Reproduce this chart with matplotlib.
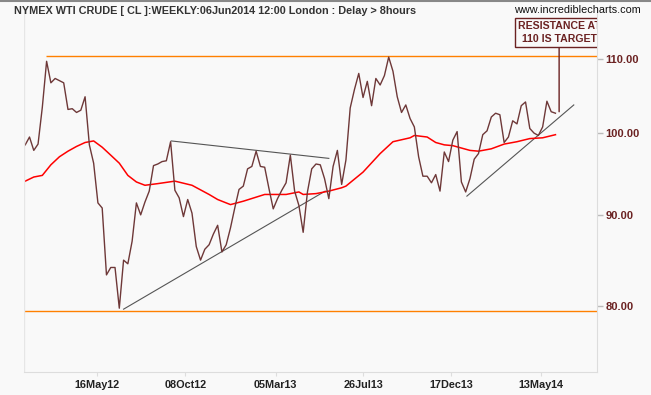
"""NYMEX WTI crude weekly chart with trendlines and 110 resistance note"""
import matplotlib
matplotlib.use('Agg')
import matplotlib.pyplot as plt
from matplotlib.ticker import FixedLocator, NullLocator, NullFormatter
import pandas as pd

# weekly closes from 20 Jan 2012 to 06 Jun 2014
close = [98.5, 99.5, 97.8, 98.6, 103.4, 109.7, 106.7, 107.3, 107.0, 106.7,
         103.1, 103.2, 102.7, 103.0, 104.8, 98.5, 96.2, 91.4, 90.8, 83.3,
         84.1, 84.1, 79.8, 84.9, 84.5, 87.0, 91.4, 90.0, 91.5, 92.8,
         95.9, 96.1, 96.4, 96.5, 98.9, 92.9, 92.0, 89.8, 91.8, 90.2,
         86.4, 84.9, 86.1, 86.6, 87.8, 88.8, 85.8, 86.6, 88.5, 90.8,
         93.0, 93.4, 95.5, 95.8, 97.7, 95.8, 95.7, 93.1, 90.7, 91.9,
         92.9, 93.8, 97.2, 92.8, 91.1, 88.0, 92.7, 95.5, 96.1, 96.0,
         94.3, 91.9, 95.8, 97.8, 93.6, 96.6, 103.3, 105.8, 108.0, 104.7,
         106.9, 103.6, 107.3, 106.4, 107.7, 110.3, 108.3, 104.8, 102.7, 103.7,
         101.9, 100.8, 97.0, 94.6, 94.6, 93.8, 94.8, 92.8, 97.6, 96.4,
         99.1, 100.2, 93.9, 92.7, 94.3, 96.7, 97.4, 99.8, 100.3, 102.1,
         102.6, 102.4, 98.8, 99.5, 101.6, 101.2, 103.6, 104.1, 100.6, 100.0,
         99.7, 100.8, 104.2, 102.8, 102.6]
dates = pd.date_range('2012-01-20', periods=len(close), freq='7D')

# moving average, read at these week numbers
ma_week = [0, 2, 4, 6, 8, 10, 12, 14, 16, 18, 20, 22, 24, 26, 28, 31, 35, 39,
           43, 45, 48, 51, 56, 61, 64, 65, 68, 71, 74, 75, 79, 83, 86, 90, 91,
           94, 96, 98, 100, 104, 106, 109, 112, 115, 118, 121, 124]
ma_val = [94.0, 94.5, 94.7, 96.0, 97.0, 97.7, 98.3, 98.8, 99.0, 98.2, 97.2,
          96.2, 94.7, 93.9, 93.5, 93.7, 94.0, 93.5, 92.4, 91.8, 91.2, 91.6,
          92.4, 92.4, 92.7, 92.4, 92.5, 92.8, 93.2, 93.4, 95.1, 97.4, 98.9,
          99.4, 99.7, 99.5, 98.8, 98.5, 98.4, 97.8, 97.7, 98.0, 98.6, 98.9,
          99.3, 99.4, 99.8]

# hand drawn trendlines (start, end)
trend_lines = [
    (['2012-06-29', '2013-05-25'], [79.7, 92.8]),
    (['2012-09-15', '2013-05-31'], [99.0, 96.8]),
    (['2014-01-12', '2014-07-06'], [92.2, 103.7]),
]
resist_level, resist_from = 110.4, '2012-02-23'
support_level = 79.5
note_text = 'RESISTANCE AT\n110 IS TARGET'
note_date, note_price, note_box_price = '2014-06-12', 102.8, 113.8

xtick_dates = ['2012-05-16', '2012-10-08', '2013-03-05', '2013-07-26', '2013-12-17', '2014-05-13']
xtick_labels = ['16May12', '08Oct12', '05Mar13', '26Jul13', '17Dec13', '13May14']
ytick_vals = [80, 90, 100, 110]

BG = '#f9f9f9'
MAROON = '#6b2222'
x_left, x_right = pd.Timestamp('2012-01-18'), pd.Timestamp('2014-08-13')

fig = plt.figure(figsize=(6.51, 3.95), dpi=100, facecolor=BG)
ax = fig.add_axes([24 / 651, 1 - 372 / 395, 573 / 651, 362 / 395], facecolor=BG)
ax.set_yscale('log')
ax.set_xlim(x_left, x_right)
ax.set_ylim(73.5, 117.2)

ax.hlines(resist_level, pd.Timestamp(resist_from), x_right, color='#ff8000', lw=1)
ax.hlines(support_level, x_left, x_right, color='#ff8000', lw=1)
for d, p in trend_lines:
    ax.plot(pd.to_datetime(d), p, color='#555555', lw=0.8)
ax.plot(dates[ma_week], ma_val, color='#ff0000', lw=1.1)
ax.plot(dates, close, color='#6e3838', lw=1.0)

ax.annotate(note_text, xy=(pd.Timestamp(note_date), note_price),
            xytext=(pd.Timestamp(note_date), note_box_price),
            ha='center', va='center', fontsize=7.6, fontweight='bold',
            family='Liberation Sans', color=MAROON, linespacing=1.35,
            bbox=dict(boxstyle='square,pad=0.3', fc=BG, ec=MAROON, lw=1),
            arrowprops=dict(arrowstyle='-', color=MAROON, lw=1, shrinkA=0, shrinkB=0),
            clip_on=True)

# axes: price on the right
for s in ['top', 'left']:
    ax.spines[s].set_visible(False)
for s in ['bottom', 'right']:
    ax.spines[s].set_color('#dddddd')
ax.axvline(x_left, color='#e6e6e6', lw=1)
ax.yaxis.tick_right()
ax.yaxis.set_major_locator(FixedLocator(ytick_vals))
ax.yaxis.set_minor_locator(NullLocator())
ax.yaxis.set_minor_formatter(NullFormatter())
ax.set_yticklabels([f'{v:.2f}' for v in ytick_vals])
ax.tick_params(axis='y', length=4, width=1, color='#bbbbbb', pad=2,
               labelsize=8, labelcolor=MAROON)
ax.set_xticks(pd.to_datetime(xtick_dates))
ax.set_xticklabels(xtick_labels)
ax.tick_params(axis='x', length=3, width=0.8, color='#dddddd', pad=3,
               labelsize=7.8, labelcolor='#222222')
for t in ax.get_xticklabels() + ax.get_yticklabels():
    t.set_fontweight('bold')
    t.set_family('Liberation Sans')

fig.text(14 / 651, 1 - 11 / 395, 'NYMEX WTI CRUDE [ CL ]:WEEKLY:06Jun2014 12:00 London : Delay > 8hours',
         fontsize=7.8, fontweight='bold', color='#333333', family='Liberation Sans',
         ha='left', va='center')
fig.text(641 / 651, 1 - 10 / 395, 'www.incrediblecharts.com', fontsize=7.8,
         color='#111111', family='Liberation Sans', ha='right', va='center')
fig.add_artist(plt.Line2D([0, 1], [0.998, 0.998], color='#888888', lw=1.5,
                          transform=fig.transFigure))

fig.savefig('out.png', dpi=100, facecolor=BG)
plt.close(fig)
